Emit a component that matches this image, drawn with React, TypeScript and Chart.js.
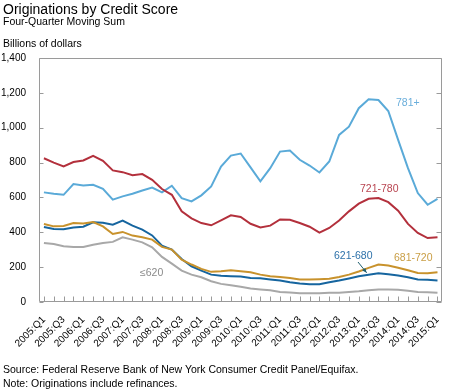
import React, { useEffect, useRef } from "react";
import { Chart, registerables } from "chart.js";

Chart.register(...registerables);

const quarters = [
  "2005:Q1", "2005:Q2", "2005:Q3", "2005:Q4",
  "2006:Q1", "2006:Q2", "2006:Q3", "2006:Q4",
  "2007:Q1", "2007:Q2", "2007:Q3", "2007:Q4",
  "2008:Q1", "2008:Q2", "2008:Q3", "2008:Q4",
  "2009:Q1", "2009:Q2", "2009:Q3", "2009:Q4",
  "2010:Q1", "2010:Q2", "2010:Q3", "2010:Q4",
  "2011:Q1", "2011:Q2", "2011:Q3", "2011:Q4",
  "2012:Q1", "2012:Q2", "2012:Q3", "2012:Q4",
  "2013:Q1", "2013:Q2", "2013:Q3", "2013:Q4",
  "2014:Q1", "2014:Q2", "2014:Q3", "2014:Q4",
  "2015:Q1",
];

const score781plus = [
  629, 621, 615, 677, 669, 673, 650, 587, 606, 621, 640, 657, 629, 667, 596, 577,
  612, 663, 777, 840, 852, 772, 692, 768, 863, 869, 816, 783, 743, 806, 959, 1006,
  1112, 1163, 1159, 1096, 930, 768, 625, 558, 592,
];
const score721to780 = [
  825, 800, 778, 803, 812, 839, 810, 755, 745, 728, 734, 701, 648, 615, 520, 480,
  453, 440, 468, 497, 488, 449, 428, 438, 474, 472, 453, 432, 398, 425, 468, 520,
  564, 592, 596, 573, 524, 448, 396, 367, 371,
];
const score681to720 = [
  448, 434, 436, 453, 451, 459, 434, 390, 402, 381, 371, 358, 316, 301, 243, 215,
  190, 173, 176, 182, 176, 171, 157, 148, 144, 138, 129, 129, 131, 133, 144, 157,
  175, 196, 215, 209, 196, 182, 167, 165, 171,
];
const score621to680 = [
  430, 419, 417, 427, 432, 457, 455, 444, 467, 438, 415, 382, 323, 301, 247, 205,
  180, 157, 150, 148, 146, 138, 136, 129, 123, 113, 106, 102, 102, 113, 123, 135,
  148, 156, 165, 159, 152, 142, 129, 127, 123,
];
const score620under = [
  339, 333, 320, 316, 316, 329, 339, 345, 371, 358, 342, 314, 259, 220, 180, 157,
  142, 119, 104, 96, 87, 77, 72, 68, 58, 54, 50, 50, 50, 53, 53, 58,
  62, 68, 72, 72, 70, 64, 58, 56, 53,
];

const yTicks = [0, 200, 400, 600, 800, 1000, 1200, 1400];

const FONT = "'Liberation Sans', Arial, Helvetica, sans-serif";

const textStyle: React.CSSProperties = {
  position: "absolute",
  left: 3,
  fontFamily: FONT,
  lineHeight: 1,
  whiteSpace: "nowrap",
  color: "#000",
  margin: 0,
};

export default function App() {
  const ref = useRef<HTMLCanvasElement>(null);

  useEffect(() => {
    if (!ref.current) return;
    const overlay = {
      id: "overlay",
      afterDraw(chart: any) {
        const { ctx, chartArea, scales } = chart;
        const { left, right, top, bottom } = chartArea;
        const xs = scales.x;
        const ys = scales.y;
        ctx.save();
        ctx.strokeStyle = "#9a9a9a";
        ctx.lineWidth = 1;
        const L = Math.round(left) + 0.5;
        const R = Math.round(right) - 0.5;
        const T = Math.round(top) + 0.5;
        const B = Math.round(bottom) - 0.5;
        ctx.beginPath();
        ctx.moveTo(L, T);
        ctx.lineTo(R, T);
        ctx.lineTo(R, B);
        ctx.lineTo(L, B);
        ctx.closePath();
        ctx.stroke();
        ctx.beginPath();
        yTicks.forEach((v) => {
          const yp = Math.round(ys.getPixelForValue(v)) + 0.5;
          ctx.moveTo(L, yp);
          ctx.lineTo(L + 4, yp);
          ctx.moveTo(R, yp);
          ctx.lineTo(R - 5, yp);
        });
        quarters.forEach((_, i) => {
          const xp = Math.round(xs.getPixelForValue(i)) + 0.5;
          ctx.moveTo(xp, B);
          ctx.lineTo(xp, B - 5);
        });
        ctx.stroke();

        ctx.font = `10.5px ${FONT}`;
        ctx.textAlign = "left";
        ctx.textBaseline = "alphabetic";
        ctx.fillStyle = "#6aaedb";
        ctx.fillText("781+", 396, 106);
        ctx.fillStyle = "#b84450";
        ctx.fillText("721-780", 360, 192);
        ctx.fillStyle = "#2e72aa";
        ctx.fillText("621-680", 334, 259);
        ctx.fillStyle = "#c99e45";
        ctx.fillText("681-720", 394, 261);
        ctx.fillStyle = "#8a8a8a";
        ctx.fillText("\u2264620", 140, 276);

        // arrow from label to 621-680 line
        const ex = xs.getPixelForValue(32.8);
        const ey = ys.getPixelForValue(score621to680[33]) - 2;
        const sx = 358;
        const sy = 262;
        ctx.strokeStyle = "#1f5e6e";
        ctx.fillStyle = "#1f5e6e";
        ctx.lineWidth = 1;
        ctx.beginPath();
        ctx.moveTo(sx, sy);
        ctx.lineTo(ex, ey);
        ctx.stroke();
        const ang = Math.atan2(ey - sy, ex - sx);
        ctx.beginPath();
        ctx.moveTo(ex, ey);
        ctx.lineTo(ex - 5 * Math.cos(ang - 0.4), ey - 5 * Math.sin(ang - 0.4));
        ctx.lineTo(ex - 5 * Math.cos(ang + 0.4), ey - 5 * Math.sin(ang + 0.4));
        ctx.closePath();
        ctx.fill();
        ctx.restore();
      },
    };

    const mk = (label: string, data: number[], color: string) => ({
      label,
      data,
      borderColor: color,
      backgroundColor: color,
      borderWidth: 2,
      pointRadius: 0,
      tension: 0,
      fill: false,
    });

    const chart = new Chart(ref.current, {
      type: "line",
      data: {
        labels: quarters,
        datasets: [
          mk("\u2264620", score620under, "#a8a8a8"),
          mk("681-720", score681to720, "#c8922c"),
          mk("621-680", score621to680, "#16659f"),
          mk("721-780", score721to780, "#b3303c"),
          mk("781+", score781plus, "#5aaad8"),
        ],
      },
      options: {
        animation: false,
        responsive: false,
        layout: { padding: { top: 58, right: 2, left: 0, bottom: 0 } },
        plugins: {
          legend: { display: false },
          tooltip: { enabled: false },
          title: { display: false },
        },
        scales: {
          x: {
            type: "category",
            offset: true,
            grid: { display: false },
            border: { display: false },
            ticks: {
              autoSkip: false,
              maxRotation: 45,
              minRotation: 45,
              padding: 4,
              color: "#000",
              font: { family: FONT, size: 10 },
              callback: (_v: any, i: number) => (i % 2 === 0 ? quarters[i] : ""),
            },
            afterFit: (s: any) => {
              s.height = 90;
            },
          },
          y: {
            min: 0,
            max: 1400,
            grid: { display: false, drawTicks: false },
            border: { display: false },
            ticks: {
              stepSize: 200,
              padding: 13,
              color: "#000",
              font: { family: FONT, size: 10 },
              callback: (v: any) => Number(v).toLocaleString("en-US"),
            },
            afterFit: (s: any) => {
              s.width = 39;
            },
          },
        },
      },
      plugins: [overlay],
    });
    return () => chart.destroy();
  }, []);

  return (
    <div
      style={{
        position: "fixed",
        left: 0,
        top: 0,
        width: 450,
        height: 392,
        background: "#fff",
        overflow: "hidden",
      }}
    >
      <canvas
        ref={ref}
        width={450}
        height={392}
        style={{ position: "absolute", left: 0, top: 0, width: 450, height: 392 }}
      />
      <div style={{ ...textStyle, top: 1.5, fontSize: 14 }}>Originations by Credit Score</div>
      <div style={{ ...textStyle, top: 16, fontSize: 10.5 }}>Four-Quarter Moving Sum</div>
      <div style={{ ...textStyle, top: 37.8, fontSize: 10.5 }}>Billions of dollars</div>
      <div style={{ ...textStyle, top: 364, fontSize: 10.5 }}>
        Source: Federal Reserve Bank of New York Consumer Credit Panel/Equifax.
      </div>
      <div style={{ ...textStyle, top: 377.5, fontSize: 10.5 }}>
        Note: Originations include refinances.
      </div>
    </div>
  );
}
